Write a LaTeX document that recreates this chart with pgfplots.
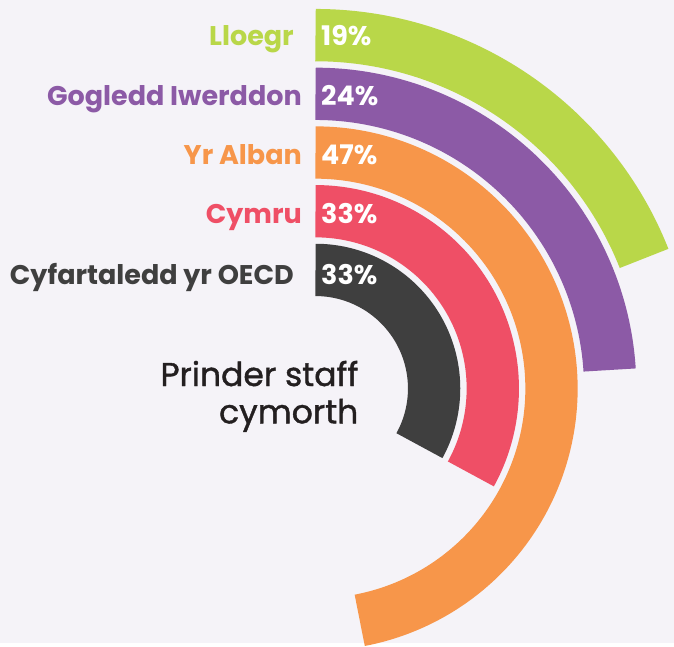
\documentclass[border=0pt]{standalone}
\usepackage{fontspec}
\setmainfont{Poppins}
\newfontfamily\medfont[FakeBold=1.2]{Poppins}
\usepackage{pgfplots}
\pgfplotsset{compat=1.18}

\definecolor{bgcol}{HTML}{F5F3F8}
\definecolor{cLloegr}{HTML}{B9D749}
\definecolor{cGogledd}{HTML}{8C5AA6}
\definecolor{cAlban}{HTML}{F7964A}
\definecolor{cCymru}{HTML}{EF4F66}
\definecolor{cOECD}{HTML}{3F3F3F}
\definecolor{cText}{HTML}{231F20}

% centre of the rings (image px, y downwards) and bar thickness
\def\cx{315.5}
\def\cy{388.5}
\def\bw{52.3}

% radial bar: #1 = percent, #2 = mid radius, #3 = colour
\newcommand{\radialbar}[3]{%
  \addplot[draw=#3, line width=\bw pt, domain=0:{#1*3.6}, samples=240, smooth=false]
    ({\cx+#2*sin(x)}, {\cy-#2*cos(x)});
}

\begin{document}
\begin{tikzpicture}
\begin{axis}[
  x=1pt, y=1pt,
  xmin=0, xmax=674, ymin=0, ymax=643,
  y dir=reverse,
  ticks=none,
  axis line style={draw=none},
  axis background/.style={fill=bgcol},
  clip=false,
  trig format plots=deg,
]
  \radialbar{19}{353.4}{cLloegr}
  \radialbar{24}{294.7}{cGogledd}
  \radialbar{47}{236.0}{cAlban}
  \radialbar{33}{177.3}{cCymru}
  \radialbar{33}{118.6}{cOECD}

  \begin{scope}[font=\fontsize{27}{31}\selectfont\bfseries]
    \node[anchor=base east, text=cLloegr, inner sep=0pt] at (axis cs:294,45.8) {Lloegr};
    \node[anchor=base east, text=cGogledd, inner sep=0pt] at (axis cs:302,105.3) {Gogledd Iwerddon};
    \node[anchor=base east, text=cAlban, inner sep=0pt] at (axis cs:302,164.3) {Yr Alban};
    \node[anchor=base east, text=cCymru, inner sep=0pt] at (axis cs:302,223.3) {Cymru};
    \node[anchor=base east, text=cOECD, inner sep=0pt] at (axis cs:294,284) {Cyfartaledd yr OECD};

    \node[anchor=base west, text=white, inner sep=0pt] at (axis cs:321,45.8) {19\%};
    \node[anchor=base west, text=white, inner sep=0pt] at (axis cs:321,105.3) {24\%};
    \node[anchor=base west, text=white, inner sep=0pt] at (axis cs:321,164.3) {47\%};
    \node[anchor=base west, text=white, inner sep=0pt] at (axis cs:321,223.3) {33\%};
    \node[anchor=base west, text=white, inner sep=0pt] at (axis cs:321,284) {33\%};
  \end{scope}

  \begin{scope}[font=\medfont\fontsize{33}{38}\selectfont]
    \node[anchor=base east, text=cText, inner sep=0pt] at (axis cs:358.5,386) {Prinder staff};
    \node[anchor=base east, text=cText, inner sep=0pt] at (axis cs:358.5,423.3) {cymorth};
  \end{scope}
\end{axis}
\end{tikzpicture}
\end{document}
